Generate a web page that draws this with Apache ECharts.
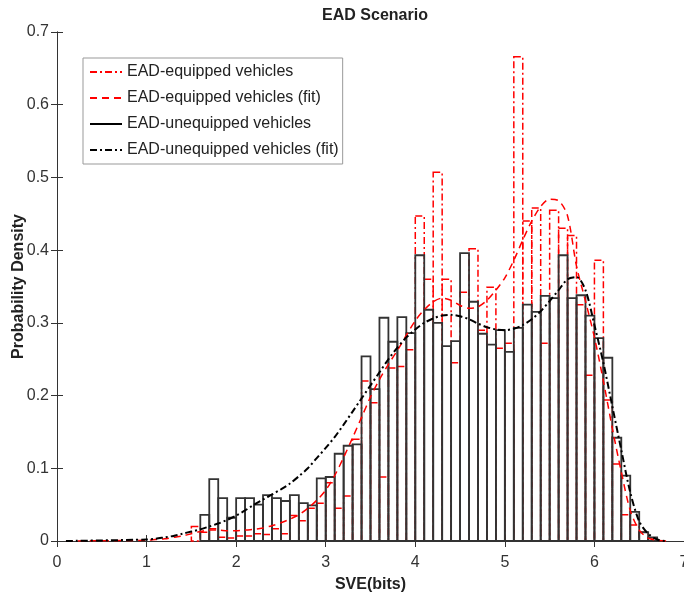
<!DOCTYPE html>
<html>
<head>
<meta charset="utf-8">
<script src="https://cdn.jsdelivr.net/npm/echarts@6/dist/echarts.min.js"></script>
<style>
  html, body { margin: 0; padding: 0; background: #fff; }
  #chart { width: 684px; height: 599px; }
</style>
</head>
<body>
<div id="chart"></div>
<script>
// histogram bins: width 0.1
const binWidth = 0.1;

// EAD-equipped vehicles, bins starting at 1.5
const equippedStart = 1.5;
const equippedDensity = [
  0.020, 0.012, 0.017, 0.005, 0.004, 0.007, 0.007, 0.010, 0.009, 0.017,
  0.010, 0.035, 0.028, 0.045, 0.052, 0.080, 0.045, 0.062, 0.140, 0.220,
  0.190, 0.088, 0.238, 0.240, 0.263, 0.447, 0.360, 0.507, 0.360, 0.245,
  0.342, 0.402, 0.290, 0.349, 0.265, 0.272, 0.666, 0.440, 0.458, 0.272,
  0.455, 0.430, 0.420, 0.325, 0.228, 0.386, 0.194, 0.106, 0.036, 0.022,
  0.012, 0.004
];

// EAD-unequipped vehicles, bins starting at 1.6
const unequippedStart = 1.6;
const unequippedDensity = [
  0.036, 0.085, 0.059, 0.032, 0.059, 0.059, 0.050, 0.063, 0.059, 0.055,
  0.063, 0.052, 0.049, 0.086, 0.088, 0.120, 0.131, 0.133, 0.254, 0.209,
  0.307, 0.274, 0.308, 0.286, 0.393, 0.318, 0.300, 0.268, 0.275, 0.396,
  0.329, 0.285, 0.270, 0.290, 0.260, 0.293, 0.325, 0.315, 0.337, 0.334,
  0.393, 0.334, 0.338, 0.310, 0.279, 0.252, 0.142, 0.090, 0.040, 0.012,
  0.005
];

// fitted curves
const fitX = [
  0.1, 1.0, 1.1, 1.2, 1.3, 1.4, 1.5, 1.6, 1.7, 1.8, 1.9,
  2.0, 2.1, 2.2, 2.3, 2.4, 2.5, 2.6, 2.7, 2.8, 2.9,
  3.0, 3.1, 3.2, 3.3, 3.4, 3.5, 3.6, 3.7, 3.8, 3.9,
  4.0, 4.1, 4.2, 4.3, 4.4, 4.5, 4.6, 4.7, 4.8, 4.9,
  5.0, 5.1, 5.2, 5.3, 5.4, 5.5, 5.6, 5.7, 5.8, 5.9,
  6.0, 6.1, 6.2, 6.3, 6.4, 6.5, 6.6, 6.7, 6.8
];
const equippedFit = [
  0, 0.001, 0.002, 0.003, 0.005, 0.007, 0.010, 0.013, 0.015, 0.015, 0.014,
  0.014, 0.015, 0.016, 0.018, 0.021, 0.025, 0.030, 0.036, 0.045, 0.056,
  0.070, 0.090, 0.115, 0.142, 0.170, 0.198, 0.222, 0.243, 0.262, 0.283,
  0.303, 0.318, 0.329, 0.334, 0.331, 0.324, 0.320, 0.322, 0.331, 0.345,
  0.362, 0.386, 0.414, 0.440, 0.460, 0.470, 0.468, 0.447, 0.378, 0.330,
  0.280, 0.220, 0.155, 0.095, 0.042, 0.015, 0.004, 0.001, 0
];
const unequippedFit = [
  0, 0.002, 0.003, 0.005, 0.007, 0.010, 0.013, 0.016, 0.020, 0.024, 0.029,
  0.035, 0.042, 0.050, 0.057, 0.064, 0.071, 0.079, 0.089, 0.100, 0.114,
  0.128, 0.143, 0.160, 0.178, 0.196, 0.214, 0.232, 0.250, 0.266, 0.280,
  0.291, 0.300, 0.306, 0.310, 0.311, 0.309, 0.305, 0.299, 0.294, 0.291,
  0.290, 0.292, 0.297, 0.305, 0.316, 0.330, 0.345, 0.360, 0.363, 0.345,
  0.297, 0.245, 0.185, 0.125, 0.067, 0.027, 0.010, 0.002, 0
];

const names = [
  'EAD-equipped vehicles',
  'EAD-equipped vehicles (fit)',
  'EAD-unequipped vehicles',
  'EAD-unequipped vehicles (fit)'
];

const font = "'Liberation Sans', Arial, sans-serif";
const dashDot = [7, 3, 2, 3];

const toBins = (start, arr) => arr.map((v, i) => [start + i * binWidth, start + (i + 1) * binWidth, v]);
const toPairs = (xs, ys) => xs.map((x, i) => [x, ys[i]]);

// draw a bin as an outline rect through the axis scales
const binRenderer = (stroke, dash, width) => (params, api) => {
  const p0 = api.coord([api.value(0), api.value(2)]);
  const p1 = api.coord([api.value(1), 0]);
  return {
    type: 'rect',
    shape: { x: p0[0], y: p0[1], width: p1[0] - p0[0], height: p1[1] - p0[1] },
    style: { fill: 'none', stroke: stroke, lineWidth: width, lineDash: dash }
  };
};

const axisCommon = {
  type: 'value',
  axisLine: { show: true, lineStyle: { color: '#333', width: 1 } },
  axisTick: { show: true, inside: true, length: 6, lineStyle: { color: '#333' } },
  splitLine: { show: false }
};

const option = {
  animation: false,
  backgroundColor: '#fff',
  title: {
    text: 'EAD Scenario',
    left: 370, top: 3, textAlign: 'center',
    textStyle: { fontSize: 16, fontWeight: 'bold', color: '#222', fontFamily: font }
  },
  grid: { left: 57, right: 0, top: 32, bottom: 58, outerBoundsMode: 'none', containLabel: false },
  legend: {
    data: names,
    orient: 'vertical',
    left: 83, top: 58,
    itemWidth: 32, itemHeight: 10, itemGap: 10,
    padding: [6, 4, 6, 6],
    borderColor: '#999', borderWidth: 1, backgroundColor: '#fff',
    itemStyle: { opacity: 0 },
    textStyle: { fontSize: 16, color: '#222', fontFamily: font }
  },
  xAxis: [
    Object.assign({}, axisCommon, {
      min: 0, max: 7, interval: 1,
      name: 'SVE(bits)', nameLocation: 'middle', nameGap: 36, nameMoveOverlap: false,
      nameTextStyle: { fontSize: 16, fontWeight: 'bold', color: '#222', fontFamily: font },
      axisLabel: { fontSize: 16, color: '#333', margin: 14, fontFamily: font }
    }),
    Object.assign({}, axisCommon, {
      position: 'top', min: 0, max: 7, interval: 1, axisLabel: { show: false }
    })
  ],
  yAxis: [
    Object.assign({}, axisCommon, {
      min: 0, max: 0.7, interval: 0.1,
      name: 'Probability Density', nameLocation: 'middle', nameGap: 30, nameRotate: 90,
      nameMoveOverlap: false,
      nameTextStyle: { fontSize: 16, fontWeight: 'bold', color: '#222', fontFamily: font },
      axisLabel: { fontSize: 16, color: '#333', margin: 8, fontFamily: font }
    }),
    Object.assign({}, axisCommon, {
      position: 'right', min: 0, max: 0.7, interval: 0.1, axisLabel: { show: false }
    })
  ],
  series: [
    // legend-only entries for the two histograms
    { name: names[0], type: 'line', data: [], symbol: 'none', color: '#ff0000',
      lineStyle: { color: '#ff0000', width: 1.5, type: dashDot } },
    { name: names[2], type: 'line', data: [], symbol: 'none', color: '#000',
      lineStyle: { color: '#000', width: 1.5, type: 'solid' } },
    {
      name: 'equipped-hist', type: 'custom', z: 2,
      renderItem: binRenderer('#ff0000', dashDot, 1.5),
      encode: { x: [0, 1], y: 2 },
      data: toBins(equippedStart, equippedDensity)
    },
    {
      name: 'unequipped-hist', type: 'custom', z: 3,
      renderItem: binRenderer('#333', null, 1.8),
      encode: { x: [0, 1], y: 2 },
      data: toBins(unequippedStart, unequippedDensity)
    },
    {
      name: names[1], type: 'line', z: 4, symbol: 'none', smooth: 0.3, color: '#ff0000',
      lineStyle: { color: '#ff0000', width: 1.5, type: [7, 5] },
      data: toPairs(fitX, equippedFit)
    },
    {
      name: names[3], type: 'line', z: 5, symbol: 'none', smooth: 0.3, color: '#000',
      lineStyle: { color: '#000', width: 2, type: dashDot },
      data: toPairs(fitX, unequippedFit)
    }
  ]
};

const chart = echarts.init(document.getElementById('chart'));
chart.setOption(option);
</script>
</body>
</html>
